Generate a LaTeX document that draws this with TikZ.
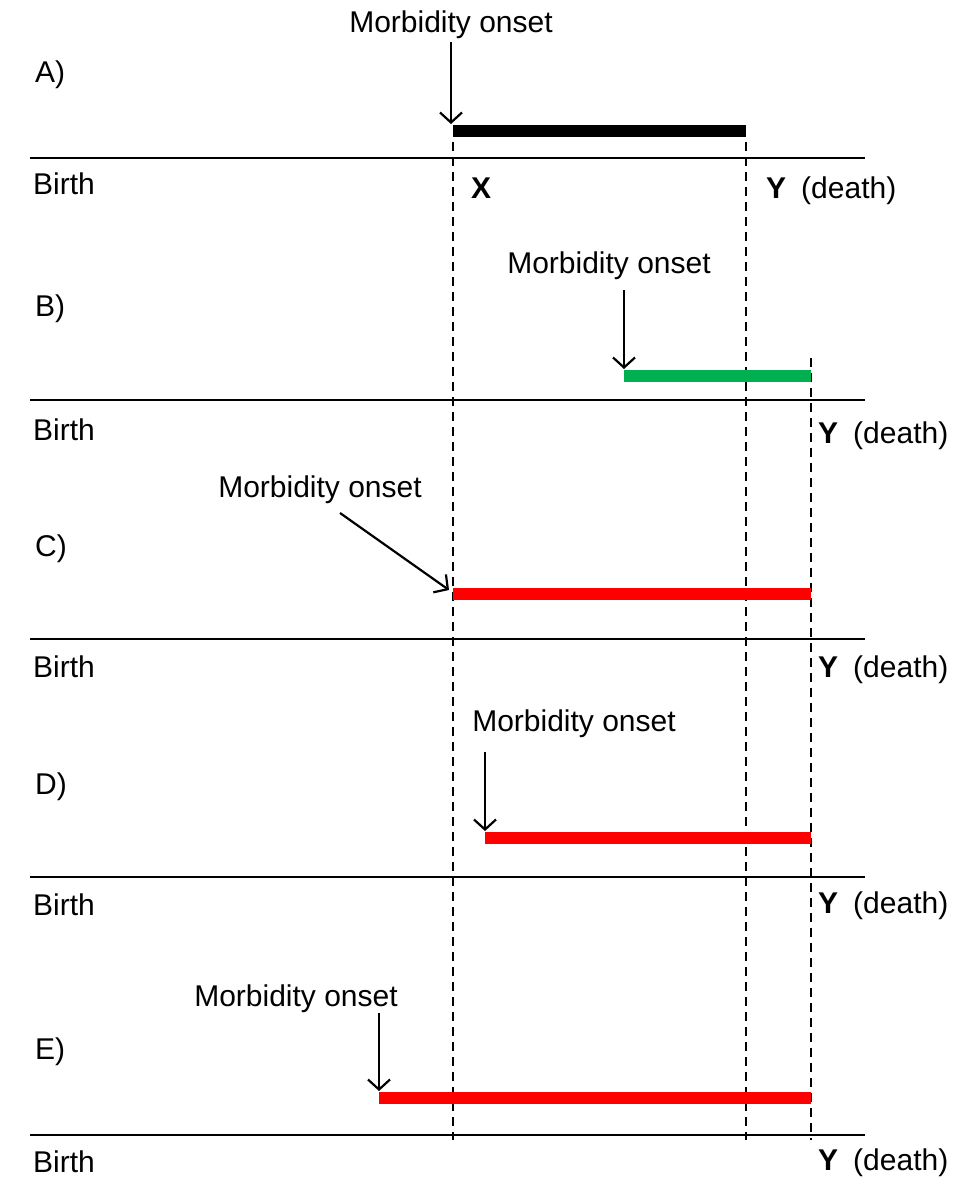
\documentclass[tikz,border=0pt]{standalone}
\usepackage{fontspec}
\setmainfont{Liberation Sans}
\usetikzlibrary{arrows.meta}
\definecolor{onsetgreen}{RGB}{0,176,80}
\definecolor{onsetred}{RGB}{255,0,0}

\begin{document}
\begin{tikzpicture}[x=1pt,y=-1pt,
    txt/.style={font=\fontsize{30}{36}\selectfont, inner sep=0pt},
    timeline/.style={line width=1.5pt},
    guide/.style={line width=1.4pt, dash pattern=on 9pt off 6pt},
    onset/.style={->, >={Straight Barb[length=10pt,width=22pt]}, line width=2.2pt},
    morbar/.style={line width=12pt}]
    \useasboundingbox (0,0) rectangle (956,1177);
    % dashed guides X, Y (A) and Y (B-E)
    \coordinate (xTop) at (453,142); \coordinate (xBot) at (453,1140);
    \coordinate (yTop) at (746,142); \coordinate (yBot) at (746,1140);
    \coordinate (zTop) at (811,358); \coordinate (zBot) at (811,1140);
    \draw[guide] (xTop) -- (xBot);
    \draw[guide] (yTop) -- (yBot);
    \draw[guide] (zTop) -- (zBot);
    % A)
    \node[txt,anchor=west] (rowA) at (35,75) {A)};
    \node[txt,anchor=west] (birthA) at (33,184) {Birth};
    \node[txt] (morbA) at (451,25) {Morbidity onset};
    \node[txt,anchor=west] (markX) at (471,188) {\textbf{X}};
    \node[txt,anchor=west] (deathA) at (766,191) {\textbf{Y}\hspace{0.5em}(death)};
    \coordinate (lineA0) at (30,158); \coordinate (lineA1) at (865,158);
    \coordinate (tailA) at (451,42); \coordinate (tipA) at (451,124);
    \coordinate (onA) at (453,131); \coordinate (offA) at (746,131);
    \draw[timeline] (lineA0) -- (lineA1);
    \draw[morbar] (onA) -- (offA);
    \draw[onset] (tailA) -- (tipA);
    % B)
    \node[txt,anchor=west] (rowB) at (35,309) {B)};
    \node[txt,anchor=west] (birthB) at (33,430) {Birth};
    \node[txt] (morbB) at (609,266) {Morbidity onset};
    \node[txt,anchor=west] (deathB) at (818,436) {\textbf{Y}\hspace{0.5em}(death)};
    \coordinate (lineB0) at (30,400); \coordinate (lineB1) at (865,400);
    \coordinate (tailB) at (624,290); \coordinate (tipB) at (624,369);
    \coordinate (onB) at (624,376); \coordinate (offB) at (811,376);
    \draw[timeline] (lineB0) -- (lineB1);
    \draw[morbar,onsetgreen] (onB) -- (offB);
    \draw[onset] (tailB) -- (tipB);
    % C)
    \node[txt,anchor=west] (rowC) at (35,549) {C)};
    \node[txt,anchor=west] (birthC) at (33,667) {Birth};
    \node[txt] (morbC) at (320,490) {Morbidity onset};
    \node[txt,anchor=west] (deathC) at (818,670) {\textbf{Y}\hspace{0.5em}(death)};
    \coordinate (lineC0) at (30,639); \coordinate (lineC1) at (865,639);
    \coordinate (tailC) at (340,513); \coordinate (tipC) at (449,590);
    \coordinate (onC) at (453,594); \coordinate (offC) at (811,594);
    \draw[timeline] (lineC0) -- (lineC1);
    \draw[morbar,onsetred] (onC) -- (offC);
    \draw[onset] (tailC) -- (tipC);
    % D)
    \node[txt,anchor=west] (rowD) at (35,787) {D)};
    \node[txt,anchor=west] (birthD) at (33,905) {Birth};
    \node[txt] (morbD) at (574,724) {Morbidity onset};
    \node[txt,anchor=west] (deathD) at (818,906) {\textbf{Y}\hspace{0.5em}(death)};
    \coordinate (lineD0) at (30,877); \coordinate (lineD1) at (865,877);
    \coordinate (tailD) at (485,752); \coordinate (tipD) at (485,831);
    \coordinate (onD) at (485,838); \coordinate (offD) at (811,838);
    \draw[timeline] (lineD0) -- (lineD1);
    \draw[morbar,onsetred] (onD) -- (offD);
    \draw[onset] (tailD) -- (tipD);
    % E)
    \node[txt,anchor=west] (rowE) at (35,1052) {E)};
    \node[txt,anchor=west] (birthE) at (33,1162) {Birth};
    \node[txt] (morbE) at (296,999) {Morbidity onset};
    \node[txt,anchor=west] (deathE) at (818,1163) {\textbf{Y}\hspace{0.5em}(death)};
    \coordinate (lineE0) at (30,1135); \coordinate (lineE1) at (865,1135);
    \coordinate (tailE) at (379,1013); \coordinate (tipE) at (379,1091);
    \coordinate (onE) at (379,1098); \coordinate (offE) at (811,1098);
    \draw[timeline] (lineE0) -- (lineE1);
    \draw[morbar,onsetred] (onE) -- (offE);
    \draw[onset] (tailE) -- (tipE);
\end{tikzpicture}
\end{document}
